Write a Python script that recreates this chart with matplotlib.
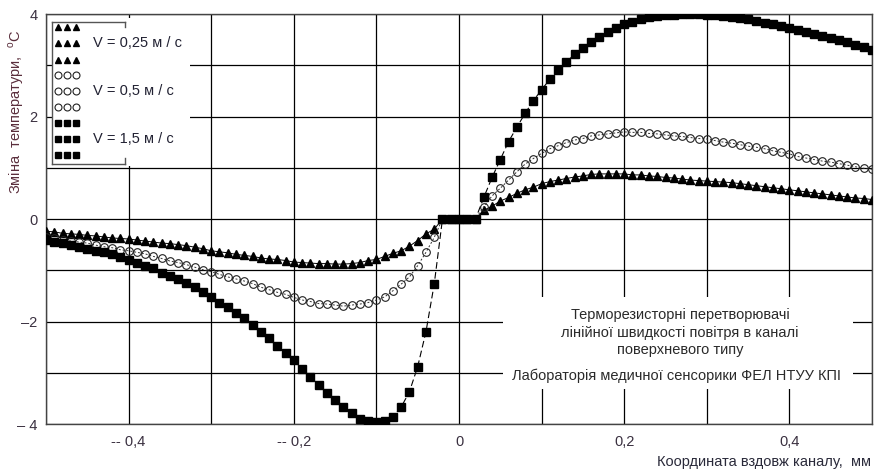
import numpy as np
import matplotlib
matplotlib.use('Agg')
import matplotlib.pyplot as plt
from matplotlib.patches import Rectangle
from matplotlib.lines import Line2D

plt.rcParams['font.family'] = ['Liberation Sans', 'DejaVu Sans']
plt.rcParams['mathtext.fontset'] = 'custom'
plt.rcParams['mathtext.rm'] = 'Liberation Sans'

# coordinate along the channel, mm (one point every 0.01 mm)
x = np.arange(-50, 51) / 100.0

# temperature change, deg C, V = 0.25 m/s
t_025 = [-0.24, -0.25, -0.28, -0.29, -0.30, -0.32, -0.33, -0.35, -0.37, -0.38,
         -0.39, -0.41, -0.43, -0.45, -0.47, -0.48, -0.50, -0.52, -0.55, -0.58,
         -0.62, -0.64, -0.66, -0.69, -0.71, -0.73, -0.76, -0.78, -0.79, -0.81,
         -0.84, -0.85, -0.86, -0.87, -0.87, -0.88, -0.88, -0.87, -0.85, -0.81,
         -0.79, -0.73, -0.67, -0.62, -0.53, -0.42, -0.29, -0.20,
         0.0, 0.0, 0.0, 0.0, 0.0,
         0.17, 0.25, 0.35, 0.42, 0.50, 0.57, 0.62, 0.69, 0.73, 0.76,
         0.79, 0.82, 0.84, 0.87, 0.88, 0.88, 0.88, 0.88, 0.86, 0.86,
         0.84, 0.83, 0.81, 0.80, 0.78, 0.76, 0.75, 0.74, 0.73, 0.72,
         0.71, 0.69, 0.67, 0.65, 0.63, 0.61, 0.59, 0.57, 0.55, 0.53,
         0.51, 0.49, 0.47, 0.45, 0.43, 0.41, 0.40, 0.38]

# V = 0.5 m/s
t_05 = [-0.36, -0.38, -0.41, -0.43, -0.45, -0.47, -0.51, -0.54, -0.56, -0.60,
        -0.62, -0.65, -0.68, -0.73, -0.77, -0.82, -0.85, -0.89, -0.94, -0.99,
        -1.03, -1.08, -1.13, -1.17, -1.21, -1.26, -1.33, -1.38, -1.43, -1.47,
        -1.53, -1.58, -1.61, -1.65, -1.66, -1.68, -1.70, -1.68, -1.66, -1.63,
        -1.58, -1.52, -1.40, -1.27, -1.13, -0.91, -0.65, -0.36,
        0.0, 0.0, 0.0, 0.0, 0.0,
        0.24, 0.45, 0.60, 0.76, 0.92, 1.07, 1.18, 1.28, 1.37, 1.43,
        1.49, 1.54, 1.57, 1.62, 1.64, 1.66, 1.68, 1.70, 1.69, 1.69,
        1.67, 1.66, 1.64, 1.62, 1.61, 1.59, 1.57, 1.56, 1.53, 1.50,
        1.48, 1.45, 1.42, 1.40, 1.37, 1.33, 1.30, 1.27, 1.22, 1.19,
        1.16, 1.13, 1.11, 1.08, 1.05, 1.02, 0.99, 0.97]

# V = 1.5 m/s
t_15 = [-0.41, -0.44, -0.46, -0.51, -0.54, -0.59, -0.62, -0.65, -0.69, -0.75,
        -0.80, -0.85, -0.91, -0.96, -1.05, -1.11, -1.17, -1.24, -1.33, -1.43,
        -1.53, -1.63, -1.72, -1.83, -1.94, -2.07, -2.20, -2.33, -2.48, -2.62,
        -2.76, -2.93, -3.08, -3.23, -3.39, -3.54, -3.67, -3.79, -3.90, -3.95,
        -3.97, -3.95, -3.86, -3.67, -3.37, -2.88, -2.20, -1.27,
        0.0, 0.0, 0.0, 0.0, 0.0,
        0.42, 0.81, 1.16, 1.51, 1.79, 2.06, 2.31, 2.52, 2.73, 2.91,
        3.07, 3.21, 3.34, 3.46, 3.56, 3.64, 3.72, 3.80, 3.85, 3.90,
        3.95, 3.96, 3.98, 3.99, 4.00, 4.00, 4.00, 3.99, 3.98, 3.97,
        3.95, 3.93, 3.90, 3.86, 3.82, 3.80, 3.77, 3.73, 3.69, 3.65,
        3.61, 3.57, 3.53, 3.49, 3.45, 3.40, 3.35, 3.30]

series_labels = ['V = 0,25 м / с', 'V = 0,5 м / с', 'V = 1,5 м / с']

xticks = [-0.4, -0.2, 0.0, 0.2, 0.4]
xtick_labels = ['-- 0,4', '-- 0,2', '0', '0,2', '0,4']
yticks = [-4, -2, 0, 2, 4]
ytick_labels = ['– 4', '–2', '0', '2', '4']

note_lines = ['Терморезисторні перетворювачі',
              'лінійної швидкості повітря в каналі',
              'поверхневого типу']
lab_line = 'Лабораторія медичної сенсорики ФЕЛ НТУУ КПІ'

W, H = 877, 472
fig = plt.figure(figsize=(W / 100, H / 100), dpi=100)
ax = fig.add_axes([46 / W, 1 - 424 / H, 826 / W, 410 / H])

tick_col = '#3a3040'

ax.plot(x, t_025, color='black', lw=0.7, ls='-', marker='^', ms=5.5,
        mfc='black', mec='black', zorder=3)
ax.plot(x, t_05, color='#333333', lw=0.7, ls=(0, (2, 2)), marker='o', ms=5.5,
        mfc='none', mec='#222222', mew=0.8, zorder=3)
ax.plot(x, t_15, color='black', lw=0.8, ls=(0, (6, 3)), marker='s', ms=5.2,
        mfc='black', mec='black', zorder=3)

ax.set_xlim(-0.5, 0.5)
ax.set_ylim(-4, 4)
ax.set_xticks(xticks)
ax.set_xticklabels(xtick_labels)
ax.set_yticks(yticks)
ax.set_yticklabels(ytick_labels)
ax.set_xticks(np.arange(-5, 6) / 10.0, minor=True)
ax.set_yticks(np.arange(-4, 5), minor=True)
ax.grid(True, which='both', color='black', lw=0.9)
ax.set_axisbelow(True)
ax.tick_params(which='both', length=0, labelsize=10.5, colors=tick_col)
ax.tick_params(axis='x', pad=8)
ax.tick_params(axis='y', pad=6)
for s in ax.spines.values():
    s.set_color('#444444')
    s.set_linewidth(1.0)

# legend block, top left
def ax_pt(px, py):
    return ((px - 46) / 826, (424 - py) / 410)

x0, y0 = ax_pt(52, 166)
x1, y1 = ax_pt(190, 18)
ax.add_patch(Rectangle((x0, y0), x1 - x0, y1 - y0, transform=ax.transAxes,
                       facecolor='white', edgecolor='none', zorder=4))
bx0, by0 = ax_pt(52, 164)
bx1, by1 = ax_pt(125, 22)
_, by_t = ax_pt(0, 27)
_, by_b = ax_pt(0, 158)
for xs, ys in [([bx0, bx0], [by0, by1]), ([bx0, bx1], [by1, by1]),
               ([bx0, bx1], [by0, by0]), ([bx1, bx1], [by1, by_t]),
               ([bx1, bx1], [by_b, by0])]:
    ax.add_line(Line2D(xs, ys, transform=ax.transAxes, color='#555555',
                       lw=1.0, zorder=5))

styles = [dict(marker='^', mfc='black', mec='black', ms=5),
          dict(marker='o', mfc='none', mec='#222222', mew=0.8, ms=5),
          dict(marker='s', mfc='black', mec='black', ms=4.8)]
row_y = [27, 43, 60, 75, 91, 107, 123, 139, 155]
mk_x = [58, 67, 76]
for k, st in enumerate(styles):
    for r in range(3):
        py = row_y[3 * k + r]
        pts = [ax_pt(px, py) for px in mk_x]
        ax.plot([p[0] for p in pts], [p[1] for p in pts], ls='none',
                transform=ax.transAxes, zorder=6, clip_on=False, **st)
    tx, ty = ax_pt(93, row_y[3 * k + 1])
    ax.text(tx, ty, series_labels[k], transform=ax.transAxes, fontsize=10.5,
            color='#222233', ha='left', va='center', zorder=6)

# annotation block, bottom right
nx0, ny0 = ax_pt(503, 389)
nx1, ny1 = ax_pt(853, 297)
ax.add_patch(Rectangle((nx0, ny0), nx1 - nx0, ny1 - ny0, transform=ax.transAxes,
                       facecolor='white', edgecolor='none', zorder=4))
for line, py in zip(note_lines, [315, 333, 350]):
    tx, ty = ax_pt(680, py)
    ax.text(tx, ty, line, transform=ax.transAxes, fontsize=10.5,
            color='#2a2a2a', ha='center', va='center', zorder=6)
tx, ty = ax_pt(677, 376)
ax.text(tx, ty, lab_line, transform=ax.transAxes, fontsize=10.5,
        color='#2a2a2a', ha='center', va='center', zorder=6)

fig.text(16 / W, 1 - 112 / H, 'Зміна  температури,  $^{\\mathrm{o}}$C',
         rotation=90, ha='center', va='center', fontsize=10.5, color='#5a2e3c')
fig.text(871 / W, 1 - 462 / H, 'Координата вздовж каналу,  мм',
         ha='right', va='center', fontsize=10.5, color='#2a2a3a')

fig.savefig('out.png', dpi=100)
